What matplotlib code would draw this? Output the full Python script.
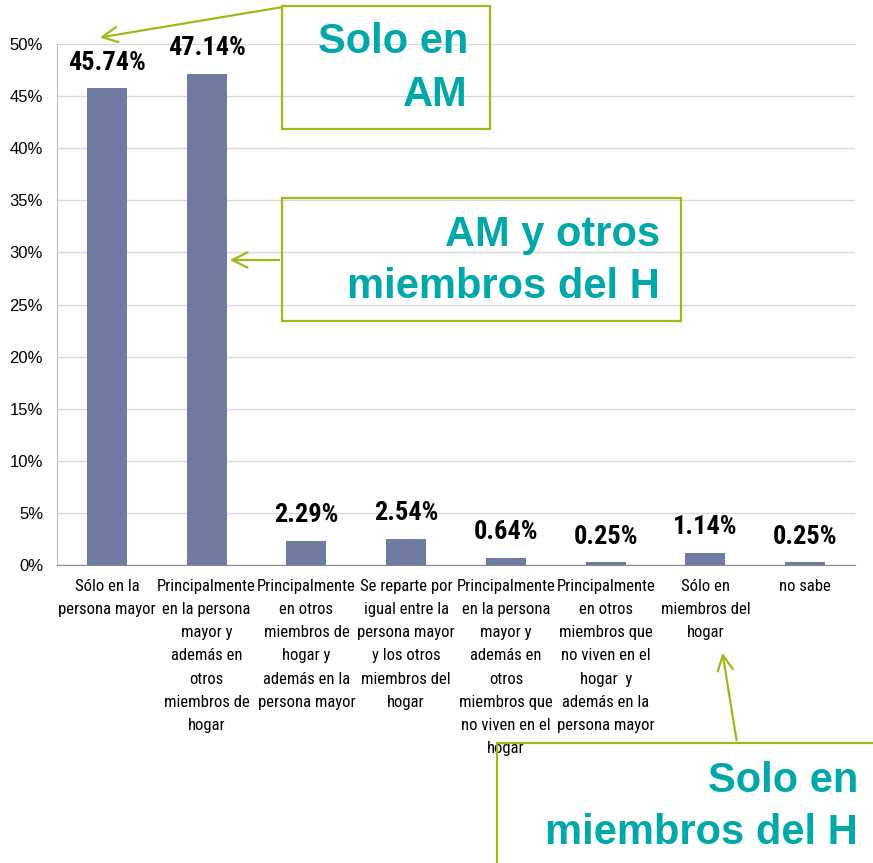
import matplotlib
matplotlib.use("Agg")
import matplotlib.pyplot as plt
from matplotlib import font_manager
from matplotlib.patches import Rectangle, FancyArrowPatch
from matplotlib.ticker import PercentFormatter

categories = [
    "Sólo en la\npersona mayor",
    "Principalmente\nen la persona\nmayor y\nademás en\notros\nmiembros de\nhogar",
    "Principalmente\nen otros\nmiembros de\nhogar y\nademás en la\npersona mayor",
    "Se reparte por\nigual entre la\npersona mayor\ny los otros\nmiembros del\nhogar",
    "Principalmente\nen la persona\nmayor y\nademás en\notros\nmiembros que\nno viven en el\nhogar",
    "Principalmente\nen otros\nmiembros que\nno viven en el\nhogar  y\nademás en la\npersona mayor",
    "Sólo en\nmiembros del\nhogar",
    "no sabe",
]
values = [45.74, 47.14, 2.29, 2.54, 0.64, 0.25, 1.14, 0.25]
yticks = [0, 5, 10, 15, 20, 25, 30, 35, 40, 45, 50]

# pick a narrow font if one is installed
names = {f.name for f in font_manager.fontManager.ttflist}
narrow = "Liberation Sans"
for cand in ["Liberation Sans Narrow", "Roboto Condensed", "Open Sans Condensed"]:
    if cand in names:
        narrow = cand
        break
is_narrow = narrow != "Liberation Sans"

bar_color = "#6F7BA2"
green = "#9BBB1A"
teal = "#00A8AA"

W, H = 873, 863
fig = plt.figure(figsize=(W / 100, H / 100), dpi=100)
ax = fig.add_axes([57 / W, 1 - 565 / H, (855 - 57) / W, (565 - 44) / H])

x = list(range(len(values)))
bars = ax.bar(x, values, width=0.4, color=bar_color, zorder=3)

ax.set_xlim(-0.5, len(values) - 0.5)
ax.set_ylim(0, 50)
ax.set_yticks(yticks)
ax.yaxis.set_major_formatter(PercentFormatter(decimals=0))
ax.grid(axis="y", color="#D9D9D9", linewidth=1, zorder=0)
ax.set_xticks(x)
ax.set_xticklabels(categories, fontsize=12 if is_narrow else 10.5,
                   family=narrow, linespacing=1.68 if is_narrow else 1.5)
ax.tick_params(axis="x", length=0, pad=10)
ax.tick_params(axis="y", length=0, pad=10, labelsize=12)
for lab in ax.get_yticklabels():
    lab.set_family("Liberation Sans")
for s in ["top", "right"]:
    ax.spines[s].set_visible(False)
ax.spines["left"].set_color("#BFBFBF")
ax.spines["bottom"].set_color("#888888")

# value labels
for bar, v in zip(bars, values):
    ax.annotate(f"{v:.2f}%", (bar.get_x() + bar.get_width() / 2, v),
                xytext=(0, 10), textcoords="offset points",
                ha="center", va="bottom", fontsize=19 if is_narrow else 16,
                fontweight="bold", family=narrow)


def px(xp, yp):
    return xp / W, 1 - yp / H


def callout(x0, y0, x1, y1, lines, right, ys):
    # outline only: the grid shows through the boxes
    fx0, fy1 = px(x0, y1)
    fx1, fy0 = px(x1, y0)
    fig.patches.append(Rectangle((fx0, fy1), fx1 - fx0, fy0 - fy1,
                                 transform=fig.transFigure, fill=False,
                                 edgecolor=green, linewidth=1.6, zorder=5,
                                 clip_on=False))
    for line, yy in zip(lines, ys):
        fx, fy = px(right, yy)
        fig.text(fx, fy, line, ha="right", va="center", fontsize=30,
                 fontweight="bold", color=teal, family="Liberation Sans",
                 zorder=6)


def arrow(tail, tip):
    fig.add_artist(FancyArrowPatch(
        px(*tail), px(*tip), transform=fig.transFigure,
        arrowstyle="->,head_length=11,head_width=5.5", mutation_scale=1,
        color=green, linewidth=1.6, zorder=7))


callout(282, 6, 490, 129, ["Solo en", "AM"], 468, [42, 95])
callout(282, 198, 681, 321, ["AM y otros", "miembros del H"], 660, [235, 287])
callout(497, 743, 900, 900, ["Solo en", "miembros del H"], 858, [781, 833])

arrow((283, 7), (97, 38))
arrow((282, 260), (227, 260))
arrow((737, 743), (722, 650))

fig.savefig("out.png", dpi=100)
